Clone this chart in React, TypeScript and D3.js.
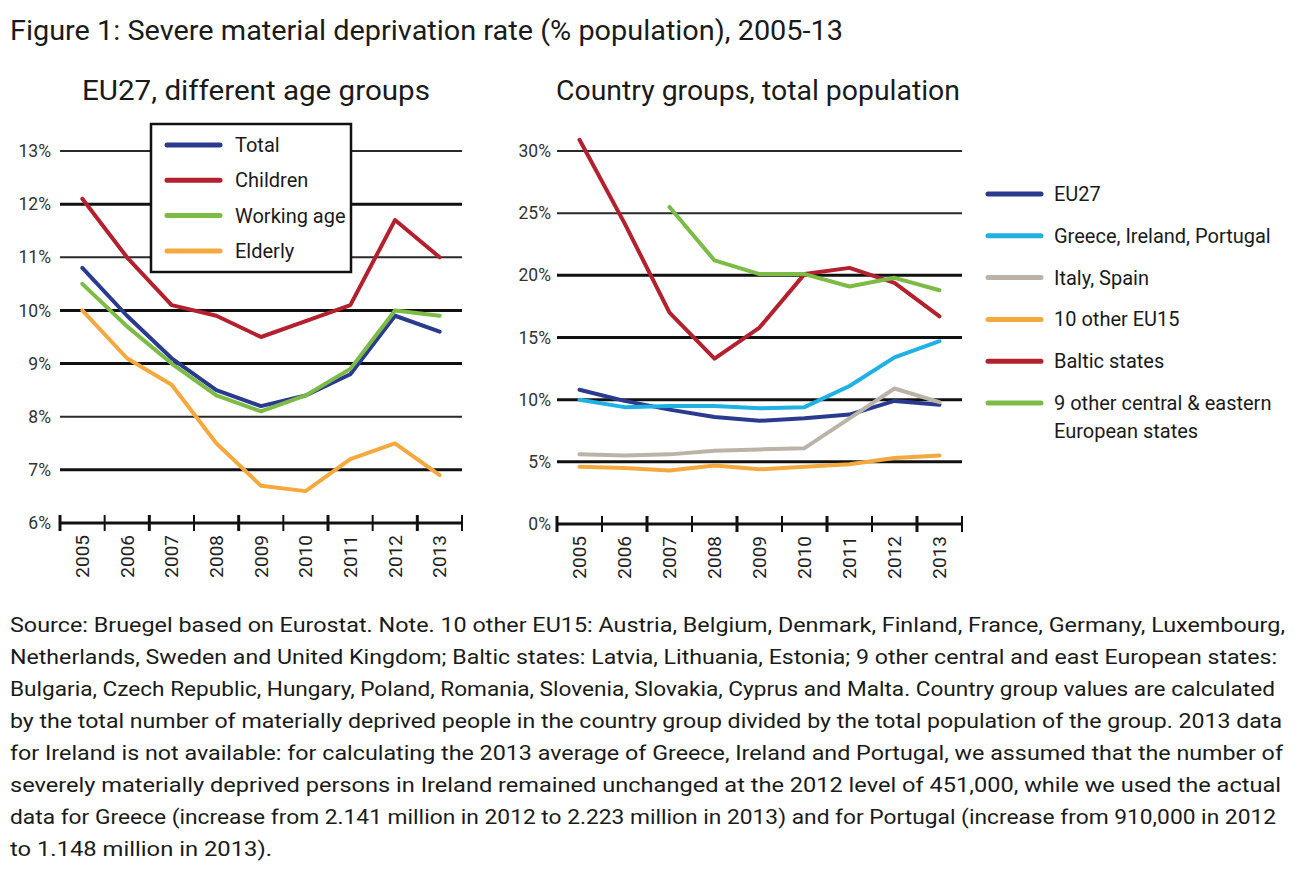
import React from "react";
import * as d3 from "d3";

const years = ["2005", "2006", "2007", "2008", "2009", "2010", "2011", "2012", "2013"];

// Left panel: EU27 by age group (%)
const total = [10.8, 9.9, 9.1, 8.5, 8.2, 8.4, 8.8, 9.9, 9.6];
const children = [12.1, 11.0, 10.1, 9.9, 9.5, 9.8, 10.1, 11.7, 11.0];
const workingAge = [10.5, 9.7, 9.0, 8.4, 8.1, 8.4, 8.9, 10.0, 9.9];
const elderly = [10.0, 9.1, 8.6, 7.5, 6.7, 6.6, 7.2, 7.5, 6.9];

// Right panel: country groups (%)
const eu27 = [10.8, 9.9, 9.2, 8.6, 8.3, 8.5, 8.8, 9.9, 9.6];
const greeceIrelandPortugal = [10.0, 9.4, 9.5, 9.5, 9.3, 9.4, 11.1, 13.4, 14.7];
const italySpain = [5.6, 5.5, 5.6, 5.9, 6.0, 6.1, 8.5, 10.9, 9.8];
const otherEU15 = [4.6, 4.5, 4.3, 4.7, 4.4, 4.6, 4.8, 5.3, 5.5];
const balticStates = [30.9, 24.2, 17.0, 13.3, 15.8, 20.1, 20.6, 19.4, 16.7];
const centralEastern: (number | null)[] = [null, null, 25.5, 21.2, 20.1, 20.1, 19.1, 19.8, 18.8];

const leftTicks = [6, 7, 8, 9, 10, 11, 12, 13];
const rightTicks = [0, 5, 10, 15, 20, 25, 30];

const leftSeries = [
  { name: "Total", values: total as (number | null)[], color: "#2a3b8f" },
  { name: "Children", values: children as (number | null)[], color: "#b3202e" },
  { name: "Working age", values: workingAge as (number | null)[], color: "#7dbb47" },
  { name: "Elderly", values: elderly as (number | null)[], color: "#f4a93e" },
];

const rightSeries = [
  { name: "EU27", values: eu27 as (number | null)[], color: "#2a3b8f" },
  { name: "Greece, Ireland, Portugal", values: greeceIrelandPortugal as (number | null)[], color: "#1fb1e2" },
  { name: "Italy, Spain", values: italySpain as (number | null)[], color: "#bbb3a8" },
  { name: "10 other EU15", values: otherEU15 as (number | null)[], color: "#f4a93e" },
  { name: "Baltic states", values: balticStates as (number | null)[], color: "#b3202e" },
  { name: "9 other central & eastern|European states", values: centralEastern, color: "#7dbb47" },
];

const sourceLines = [
  "Source: Bruegel based on Eurostat. Note.  10 other EU15: Austria, Belgium, Denmark, Finland, France, Germany, Luxembourg,",
  "Netherlands, Sweden and United Kingdom; Baltic states: Latvia, Lithuania, Estonia; 9 other central and east European states:",
  "Bulgaria, Czech Republic, Hungary, Poland, Romania, Slovenia, Slovakia, Cyprus and Malta. Country group values are calculated",
  "by the total number of materially deprived people in the country group divided by the total population of the group. 2013 data",
  "for Ireland is not available: for calculating the 2013 average of Greece, Ireland and Portugal, we assumed that the number of",
  "severely materially deprived persons in Ireland remained unchanged at the 2012 level of 451,000, while we used the actual",
  "data for Greece (increase from 2.141 million in 2012 to 2.223 million in 2013) and for Portugal (increase from 910,000 in 2012",
  "to 1.148 million in 2013).",
];
const sourceWidths = [1275, 1267, 1265, 1272, 1273, 1271, 1266, 262];

const FONT = "Roboto, 'Open Sans', sans-serif";

type Panel = {
  x0: number;
  x1: number;
  yTop: number;
  yBottom: number;
  domain: [number, number];
  ticks: number[];
  thick: number[];
  series: { name: string; values: (number | null)[]; color: string }[];
  labelRight: number;
};

function ChartPanel({ p }: { p: Panel }) {
  const x = d3.scaleBand<string>().domain(years).range([p.x0, p.x1]).padding(0);
  const y = d3.scaleLinear().domain(p.domain).range([p.yBottom, p.yTop]);
  const line = d3
    .line<number | null>()
    .defined((d) => d !== null)
    .x((_, i) => (x(years[i]) as number) + x.bandwidth() / 2)
    .y((d) => y(d as number));
  const boundaries = years.map((yr) => x(yr) as number).concat([p.x1]);
  return (
    <g>
      {p.ticks
        .filter((t) => t !== p.domain[0])
        .map((t) => (
          <line
            key={t}
            x1={p.x0}
            x2={p.x1}
            y1={y(t)}
            y2={y(t)}
            stroke={p.thick.includes(t) ? "#111" : "#2a2a2a"}
            strokeWidth={p.thick.includes(t) ? 3 : 2}
          />
        ))}
      {p.ticks.map((t) => (
        <text
          key={"l" + t}
          x={p.labelRight}
          y={y(t)}
          dy="0.35em"
          textAnchor="end"
          fontSize={17.5}
          fontFamily={FONT}
          fill="#333"
        >
          {t}%
        </text>
      ))}
      <line x1={p.x0} x2={p.x1} y1={y(p.domain[0])} y2={y(p.domain[0])} stroke="#111" strokeWidth={3} />
      {boundaries.map((b, i) => (
        <line key={"t" + i} x1={b} x2={b} y1={y(p.domain[0]) - 8} y2={y(p.domain[0]) + 8} stroke="#111" strokeWidth={i % 2 === 0 ? 3 : 2} />
      ))}
      {years.map((yr) => (
        <text
          key={yr}
          transform={`translate(${(x(yr) as number) + x.bandwidth() / 2},${y(p.domain[0]) + 12}) rotate(-90)`}
          textAnchor="end"
          dy="0.35em"
          fontSize={19}
          fontFamily={FONT}
          fill="#222"
        >
          {yr}
        </text>
      ))}
      {p.series.map((s) => (
        <path
          key={s.name}
          d={line(s.values) || ""}
          fill="none"
          stroke={s.color}
          strokeWidth={4}
          strokeLinejoin="round"
          strokeLinecap="round"
        />
      ))}
    </g>
  );
}

export default function App() {
  const left: Panel = {
    x0: 60,
    x1: 462,
    yTop: 151,
    yBottom: 523,
    domain: [6, 13],
    ticks: leftTicks,
    thick: [12, 10, 9, 7],
    series: leftSeries,
    labelRight: 51,
  };
  const right: Panel = {
    x0: 557,
    x1: 962,
    yTop: 151,
    yBottom: 524,
    domain: [0, 30],
    ticks: rightTicks,
    thick: [20, 15, 10, 5],
    series: rightSeries,
    labelRight: 551,
  };
  return (
    <svg width={1310} height={881} style={{ position: "absolute", left: 0, top: 0, background: "#fff" }}>
      <rect x={0} y={0} width={1310} height={881} fill="#fff" />
      <text x={10} y={40} fontSize={27} fontFamily={FONT} fill="#1a1a1a" textLength={833} lengthAdjust="spacingAndGlyphs">
        Figure 1: Severe material deprivation rate (% population), 2005-13
      </text>
      <text x={82} y={100} fontSize={27} fontFamily={FONT} fill="#1a1a1a" textLength={348} lengthAdjust="spacingAndGlyphs">
        EU27, different age groups
      </text>
      <text x={556} y={100} fontSize={27} fontFamily={FONT} fill="#1a1a1a" textLength={404} lengthAdjust="spacingAndGlyphs">
        Country groups, total population
      </text>

      <ChartPanel p={left} />
      <ChartPanel p={right} />

      {/* left legend */}
      <rect x={151} y={124} width={200} height={148} fill="#fff" stroke="#111" strokeWidth={2.5} />
      {leftSeries.map((s, i) => (
        <g key={s.name}>
          <line x1={167} x2={220} y1={145 + i * 35.3} y2={145 + i * 35.3} stroke={s.color} strokeWidth={5} strokeLinecap="round" />
          <text x={235} y={145 + i * 35.3} dy="0.35em" fontSize={20} fontFamily={FONT} fill="#1a1a1a">
            {s.name}
          </text>
        </g>
      ))}

      {/* right legend */}
      {rightSeries.map((s, i) => {
        const parts = s.name.split("|");
        const cy = 194 + i * 41.8;
        return (
          <g key={s.name}>
            <line x1={988} x2={1041} y1={cy} y2={cy} stroke={s.color} strokeWidth={5} strokeLinecap="round" />
            {parts.map((pt, j) => (
              <text key={j} x={1054} y={cy + j * 28} dy="0.35em" fontSize={20} fontFamily={FONT} fill="#1a1a1a">
                {pt}
              </text>
            ))}
          </g>
        );
      })}

      {sourceLines.map((l, i) => (
        <text
          key={i}
          x={10}
          y={632 + i * 32}
          fontSize={20}
          fontFamily={FONT}
          fill="#1a1a1a"
          textLength={sourceWidths[i]}
          lengthAdjust="spacingAndGlyphs"
        >
          {l}
        </text>
      ))}
    </svg>
  );
}
